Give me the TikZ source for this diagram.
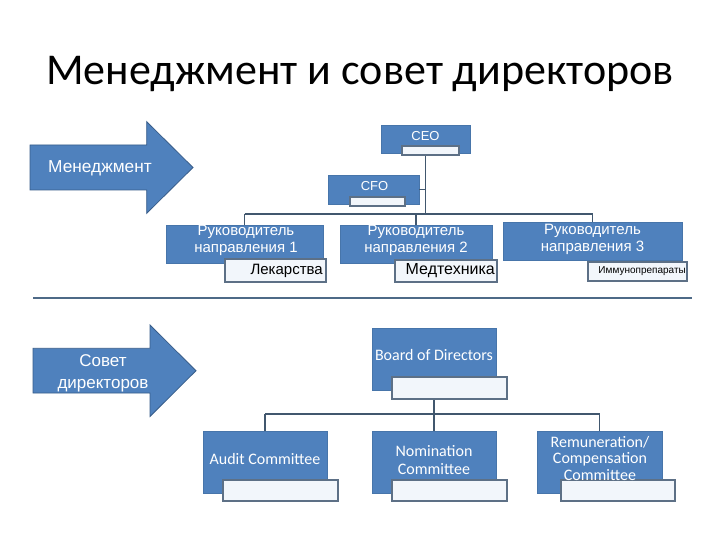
\documentclass[tikz,border=0pt]{standalone}
\usepackage{fontspec}
\setmainfont{Carlito}
\newfontfamily\arialf{Liberation Sans}
\definecolor{boxblue}{HTML}{4F81BD}
\definecolor{boxedge}{HTML}{4775AA}
\definecolor{arrowedge}{HTML}{385D8A}
\definecolor{subedge}{HTML}{5D7086}
\definecolor{subfill}{HTML}{F2F6FB}
\definecolor{conn}{HTML}{41576E}
\definecolor{sepcol}{HTML}{4E6A87}
\tikzset{
  bx/.style={rectangle, fill=boxblue, draw=boxedge, line width=0.5pt, inner sep=0pt, outer sep=0pt, anchor=north west},
  subbx/.style={rectangle, fill=subfill, draw=subedge, line width=1.4pt, inner sep=0pt, outer sep=0pt, anchor=north west},
  conline/.style={draw=conn, line width=1.8pt},
  arrowshape/.style={fill=boxblue, draw=arrowedge, line width=0.8pt, line join=miter},
  wtxt/.style={text=white, inner sep=0pt, align=center},
  ctxt/.style={wtxt, font=\fontsize{16}{17}\selectfont},
  rtxt/.style={wtxt, font=\arialf\fontsize{15}{17}\selectfont},
  ktxt/.style={text=black, inner sep=0pt, anchor=east, font=\arialf\fontsize{15}{17}\selectfont},
}
\begin{document}
\begin{tikzpicture}[x=1pt, y=-1pt]
\useasboundingbox (0,0) rectangle (720,540);
\fill[white] (0,0) rectangle (720,540);

% title
\node[anchor=base, inner sep=0pt, font=\fontsize{44}{50}\selectfont] (title) at (360,85) {Менеджмент и совет директоров};

% arrows
\draw[arrowshape] (30,145) -- (146.7,145) -- (146.7,121.7) -- (193,167.5) -- (146.7,213.3) -- (146.7,190) -- (30,190) -- cycle;
\node[wtxt, font=\arialf\fontsize{17.3}{20}\selectfont] (mgmt) at (100,168) {Менеджмент};
\draw[arrowshape] (33,348.3) -- (150,348.3) -- (150,325) -- (196,370.7) -- (150,416.5) -- (150,393) -- (33,393) -- cycle;
\node[wtxt, font=\arialf\fontsize{17}{22}\selectfont] (sovet) at (103,373) {Совет\\директоров};

% separator
\coordinate (sepL) at (33,298);
\coordinate (sepR) at (692,298);
\draw[draw=sepcol, line width=2.5pt] (sepL) -- (sepR);

% management boxes
\node[bx, minimum width=89pt, minimum height=28pt] (ceo) at (381,125) {};
\node[bx, minimum width=91pt, minimum height=29pt] (cfo) at (328,175) {};
\node[bx, minimum width=157pt, minimum height=38pt] (r1) at (166,225) {};
\node[bx, minimum width=152pt, minimum height=38pt] (r2) at (340,225) {};
\node[bx, minimum width=179pt, minimum height=38pt] (r3) at (503,222) {};

% management connectors
\coordinate (j1) at (426,214);
\draw[conline] (ceo.south) -- (ceo.south |- j1);
\draw[conline] (cfo.east) -- (cfo.east -| ceo.south);
\draw[conline] (r1.north |- j1) -- (r3.north |- j1);
\draw[conline] (r1.north |- j1) -- (r1.north);
\draw[conline] (r2.north |- j1) -- (r2.north);
\draw[conline] (r3.north |- j1) -- (r3.north);

% sub boxes
\node[subbx, minimum width=57pt, minimum height=9pt] (ceosub) at (402,146) {};
\node[subbx, minimum width=55pt, minimum height=9pt] (cfosub) at (350,197) {};
\node[subbx, minimum width=101pt, minimum height=23pt] (r1sub) at (225,259) {};
\node[subbx, minimum width=102pt, minimum height=22pt] (r2sub) at (395,260) {};
\node[subbx, minimum width=99pt, minimum height=19pt] (r3sub) at (588,262) {};

% texts
\node[wtxt, font=\arialf\fontsize{13}{14}\selectfont] (ceot) at (425.5,136) {CEO};
\node[wtxt, font=\arialf\fontsize{13}{14}\selectfont] (cfot) at (374.5,186) {CFO};
\node[rtxt] (r1t) at (246,240.5) {Руководитель\\направления 1};
\node[rtxt] (r2t) at (416,240.5) {Руководитель\\направления 2};
\node[rtxt] (r3t) at (592.5,239) {Руководитель\\направления 3};
\node[ktxt] (r1k) at ([xshift=-3pt]r1sub.east) {Лекарства};
\node[ktxt, font=\arialf\fontsize{16}{18}\selectfont] (r2k) at ([xshift=-2pt]r2sub.east) {Медтехника};
\node[ktxt, font=\arialf\fontsize{10}{11}\selectfont] (r3k) at ([xshift=-1pt]r3sub.east) {Иммунопрепараты};

% board
\node[bx, minimum width=124pt, minimum height=62pt] (bod) at (372,328) {};
\node[bx, minimum width=124pt, minimum height=62pt] (aud) at (203,431) {};
\node[bx, minimum width=124pt, minimum height=62pt] (nom) at (372,431) {};
\node[bx, minimum width=125pt, minimum height=62pt] (rem) at (537,431) {};

\coordinate (j2) at (434,414);
\draw[conline] (bod.south) -- (nom.north);
\draw[conline] (aud.north |- j2) -- (rem.north |- j2);
\draw[conline] (aud.north |- j2) -- (aud.north);
\draw[conline] (rem.north |- j2) -- (rem.north);

\node[subbx, minimum width=115pt, minimum height=22pt] (bodsub) at (392,377) {};
\node[subbx, minimum width=115pt, minimum height=21pt] (audsub) at (223,480) {};
\node[subbx, minimum width=115pt, minimum height=21pt] (nomsub) at (392,480) {};
\node[subbx, minimum width=114pt, minimum height=21pt] (remsub) at (561,480) {};

\node[ctxt] (bodt) at (434,355) {Board of Directors};
\node[ctxt] (audt) at (265,459) {Audit Committee};
\node[ctxt, font=\fontsize{16}{18}\selectfont] (nomt) at (434,460) {Nomination\\Committee};
\node[ctxt, font=\fontsize{16}{16.7}\selectfont] (remt) at (600,458.3) {Remuneration/\\Compensation\\Committee};
\end{tikzpicture}
\end{document}
